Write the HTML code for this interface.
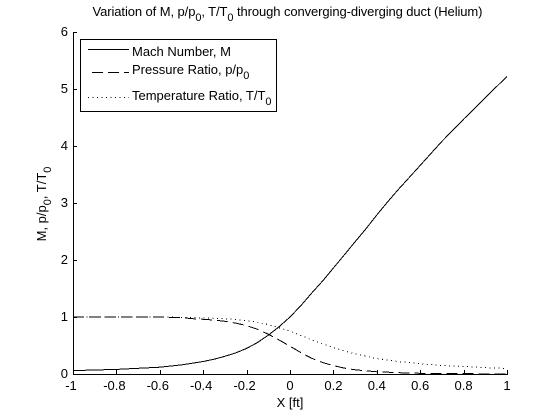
<!DOCTYPE html>
<html>
<head>
<meta charset="utf-8">
<style>
html,body{margin:0;padding:0;background:#fff;width:560px;height:420px;overflow:hidden}
svg{display:block}
text{font-family:"Liberation Sans",Arial,sans-serif;font-size:13px;fill:#000}
</style>
</head>
<body>
<svg id="chart" width="560" height="420" viewBox="0 0 560 420" xmlns="http://www.w3.org/2000/svg">
<text x="92.5" y="16" textLength="390" lengthAdjust="spacing">Variation of M, p/p<tspan dy="5" style="font-size:11px">0</tspan><tspan dy="-5">, T/T</tspan><tspan dy="5" style="font-size:11px">0</tspan><tspan dy="-5"> through converging-diverging duct (Helium)</tspan></text>
<g id="axes"></g>
<g id="series"></g>
<text x="290" y="407" text-anchor="middle">X [ft]</text>
<text transform="translate(46,204) rotate(-90)" text-anchor="middle">M, p/p<tspan dy="5" style="font-size:11px">0</tspan><tspan dy="-5">, T/T</tspan><tspan dy="5" style="font-size:11px">0</tspan></text>
<g>
<rect x="80.5" y="39.5" width="196" height="72" fill="#fff" stroke="#000" shape-rendering="crispEdges"/>
<line x1="88" x2="129" y1="49.5" y2="49.5" stroke="#000" shape-rendering="crispEdges"/>
<text x="132" y="56">Mach Number, M</text>
<line x1="92" x2="129" y1="72.5" y2="72.5" stroke="#000" stroke-dasharray="11 5" shape-rendering="crispEdges"/>
<text x="132" y="74">Pressure Ratio, p/p<tspan dy="5" style="font-size:11px">0</tspan></text>
<line x1="88" x2="129" y1="97.5" y2="97.5" stroke="#000" stroke-dasharray="1 3.5" shape-rendering="crispEdges"/>
<text x="132" y="100">Temperature Ratio, T/T<tspan dy="5" style="font-size:11px">0</tspan></text>
</g>
</svg>
<script>
var xValues = [-1,-0.9,-0.8,-0.7,-0.6,-0.5,-0.45,-0.4,-0.35,-0.3,-0.25,-0.2,-0.15,-0.1,-0.05,0,0.05,0.1,0.15,0.2,0.25,0.3,0.35,0.4,0.45,0.5,0.55,0.6,0.65,0.7,0.8,0.9,1];
var machValues = [0.06,0.07,0.08,0.10,0.12,0.16,0.19,0.22,0.26,0.31,0.37,0.45,0.55,0.68,0.83,1.0,1.2,1.42,1.63,1.86,2.09,2.32,2.55,2.79,3.02,3.24,3.45,3.66,3.87,4.08,4.47,4.85,5.22];
var pressureValues = [1,1,1,0.999,0.998,0.99,0.97,0.96,0.946,0.924,0.893,0.85,0.786,0.698,0.596,0.487,0.376,0.276,0.202,0.147,0.104,0.0735,0.056,0.038,0.031,0.022,0.018,0.013,0.011,0.009,0.006,0.004,0.003];
var temperatureValues = [1,1,1,0.999,0.998,0.995,0.988,0.984,0.978,0.969,0.956,0.937,0.908,0.866,0.813,0.75,0.676,0.598,0.527,0.464,0.405,0.352,0.316,0.27,0.248,0.216,0.201,0.178,0.167,0.151,0.131,0.113,0.099];
var xTickValues = [-1,-0.8,-0.6,-0.4,-0.2,0,0.2,0.4,0.6,0.8,1];
var yTickValues = [0,1,2,3,4,5,6];

var NS = 'http://www.w3.org/2000/svg';
function sx(v){ return 73 + (v + 1) * 217; }
function sy(v){ return 374 - v * 57; }
function make(tag, parent){ var el = document.createElementNS(NS, tag); parent.appendChild(el); return el; }

var axes = document.getElementById('axes');
var xAxisLine = make('line', axes);


xAxisLine.setAttribute('x1', sx(-1)); xAxisLine.setAttribute('x2', sx(1) + 1);
xAxisLine.setAttribute('y1', sy(0) + 0.5); xAxisLine.setAttribute('y2', sy(0) + 0.5);
xAxisLine.setAttribute('stroke', '#000');
xAxisLine.setAttribute('shape-rendering', 'crispEdges');

var yAxisLine = make('line', axes);


yAxisLine.setAttribute('x1', sx(-1) + 0.5); yAxisLine.setAttribute('x2', sx(-1) + 0.5);
yAxisLine.setAttribute('y1', sy(6)); yAxisLine.setAttribute('y2', sy(0) + 1);
yAxisLine.setAttribute('stroke', '#000');
yAxisLine.setAttribute('shape-rendering', 'crispEdges');

xTickValues.forEach(function(v){
  var t = make('line', axes);
  
  
  var px = Math.round(sx(v)) + 0.5;
  t.setAttribute('x1', px); t.setAttribute('x2', px);
  t.setAttribute('y1', sy(0)); t.setAttribute('y2', sy(0) - 4);
  t.setAttribute('stroke', '#000');
  t.setAttribute('shape-rendering', 'crispEdges');
  var l = make('text', axes);
  
  
  l.setAttribute('x', sx(v) - (v < 0 ? 2 : 0));
  l.setAttribute('y', 390);
  l.setAttribute('text-anchor', 'middle');
  l.textContent = String(v);
});
yTickValues.forEach(function(v){
  var t = make('line', axes);
  
  
  var py = Math.round(sy(v)) + 0.5;
  t.setAttribute('x1', sx(-1)); t.setAttribute('x2', sx(-1) + 4);
  t.setAttribute('y1', py); t.setAttribute('y2', py);
  t.setAttribute('stroke', '#000');
  t.setAttribute('shape-rendering', 'crispEdges');
  var l = make('text', axes);
  
  
  l.setAttribute('x', 68);
  l.setAttribute('y', sy(v) + 4);
  l.setAttribute('text-anchor', 'end');
  l.textContent = String(v);
});

function buildPoints(values){
  return values.map(function(v, i){ return sx(xValues[i]).toFixed(1) + ',' + sy(v).toFixed(1); }).join(' ');
}
var seriesGroup = document.getElementById('series');

var machLine = make('polyline', seriesGroup);


machLine.setAttribute('points', buildPoints(machValues));
machLine.setAttribute('fill', 'none');
machLine.setAttribute('stroke', '#000');
machLine.setAttribute('shape-rendering', 'crispEdges');

var pressureLine = make('polyline', seriesGroup);


pressureLine.setAttribute('points', buildPoints(pressureValues));
pressureLine.setAttribute('fill', 'none');
pressureLine.setAttribute('stroke', '#000');
pressureLine.setAttribute('stroke-dasharray', '11 5');
pressureLine.setAttribute('shape-rendering', 'crispEdges');

var temperatureLine = make('polyline', seriesGroup);


temperatureLine.setAttribute('points', buildPoints(temperatureValues));
temperatureLine.setAttribute('fill', 'none');
temperatureLine.setAttribute('stroke', '#000');
temperatureLine.setAttribute('stroke-dasharray', '1 3.5');
temperatureLine.setAttribute('shape-rendering', 'crispEdges');
</script>
</body>
</html>
